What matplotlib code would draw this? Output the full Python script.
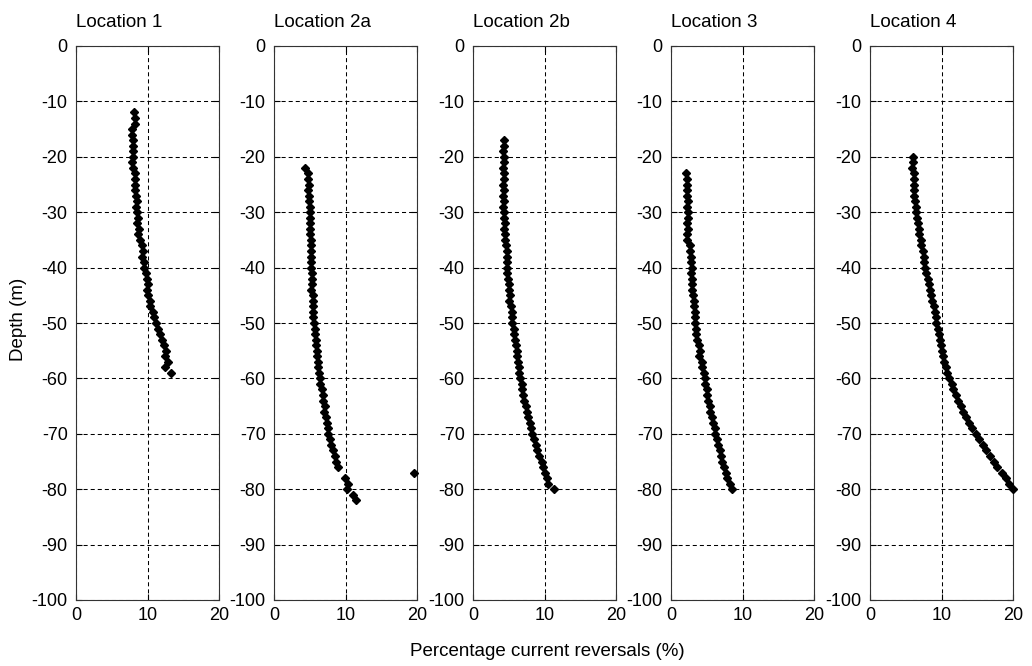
import numpy as np
import matplotlib
matplotlib.use('Agg')
import matplotlib.pyplot as plt

plt.rcParams['font.family'] = ['Liberation Sans', 'DejaVu Sans']
plt.rcParams['font.size'] = 13
plt.rcParams['axes.unicode_minus'] = False

# titles of the five panels
titles = ['Location 1', 'Location 2a', 'Location 2b', 'Location 3', 'Location 4']

# depth sampled every metre (m), from first to last reading
depth_1 = list(range(-12, -60, -1))
depth_2a = list(range(-22, -83, -1))
depth_2b = list(range(-17, -81, -1))
depth_3 = list(range(-23, -81, -1))
depth_4 = list(range(-20, -81, -1))

# percentage current reversals (%)
rev_1 = [8.1, 8.3, 8.2, 7.9, 7.8, 8.0, 8.0, 8.0, 8.0, 7.9,
         8.0, 8.2, 8.2, 8.3, 8.2, 8.4, 8.5, 8.4, 8.6, 8.7,
         8.6, 8.8, 8.7, 8.9, 9.3, 9.4, 9.2, 9.5, 9.5, 9.8,
         9.9, 10.0, 9.9, 10.1, 10.4, 10.3, 10.7, 10.9, 11.2, 11.4,
         11.7, 12.0, 12.3, 12.6, 12.4, 12.9, 12.5, 13.3]
rev_2a = [4.4, 4.8, 4.7, 4.9, 4.8, 4.9, 4.9, 5.0, 5.0, 5.0,
          5.1, 5.0, 5.1, 5.2, 5.2, 5.2, 5.2, 5.2, 5.2, 5.3,
          5.3, 5.3, 5.2, 5.4, 5.4, 5.5, 5.4, 5.5, 5.6, 5.7,
          5.8, 5.9, 5.9, 6.0, 6.0, 6.1, 6.2, 6.3, 6.4, 6.4,
          6.7, 6.8, 6.9, 7.1, 7.0, 7.3, 7.4, 7.6, 7.6, 7.9,
          8.0, 8.3, 8.6, 8.7, 9.0, 19.6, 9.9, 10.3, 10.2, 11.0,
          11.4]
rev_2b = [4.3, 4.3, 4.2, 4.3, 4.3, 4.2, 4.3, 4.3, 4.2, 4.3,
          4.2, 4.3, 4.2, 4.3, 4.4, 4.5, 4.4, 4.5, 4.5, 4.6,
          4.7, 4.7, 4.8, 4.8, 4.8, 4.9, 5.0, 5.1, 5.2, 5.1,
          5.3, 5.4, 5.4, 5.5, 5.7, 5.8, 5.9, 6.0, 6.1, 6.2,
          6.3, 6.4, 6.4, 6.6, 6.8, 6.9, 7.0, 7.2, 7.4, 7.5,
          7.7, 8.0, 8.1, 8.3, 8.5, 8.8, 9.0, 9.2, 9.7, 9.8,
          10.1, 10.4, 10.5, 11.3]
rev_3 = [2.1, 2.3, 2.2, 2.3, 2.3, 2.4, 2.3, 2.4, 2.4, 2.3,
         2.4, 2.3, 2.3, 2.7, 2.7, 2.8, 2.8, 2.9, 2.8, 2.9,
         3.0, 3.0, 3.1, 3.2, 3.2, 3.3, 3.3, 3.4, 3.5, 3.5,
         3.6, 3.9, 4.1, 3.9, 4.3, 4.4, 4.6, 4.7, 4.8, 5.0,
         5.1, 5.2, 5.4, 5.5, 5.7, 5.9, 6.1, 6.2, 6.4, 6.6,
         6.8, 7.0, 7.2, 7.4, 7.7, 7.8, 8.2, 8.6]
rev_4 = [6.0, 6.0, 5.9, 6.1, 6.1, 6.2, 6.2, 6.1, 6.3, 6.4,
         6.5, 6.6, 6.7, 6.8, 6.9, 7.1, 7.2, 7.4, 7.5, 7.6,
         7.7, 7.9, 8.1, 8.3, 8.4, 8.6, 8.7, 8.9, 9.1, 9.2,
         9.3, 9.5, 9.6, 9.8, 9.9, 10.1, 10.2, 10.4, 10.6, 10.8,
         11.1, 11.4, 11.6, 12.0, 12.3, 12.7, 13.0, 13.4, 13.8, 14.3,
         14.8, 15.3, 15.8, 16.2, 16.8, 17.4, 17.8, 18.5, 19.0, 19.4,
         20.0]

depths = [depth_1, depth_2a, depth_2b, depth_3, depth_4]
revs = [rev_1, rev_2a, rev_2b, rev_3, rev_4]

fig = plt.figure(figsize=(10.32, 6.66), dpi=100)

lefts = [76, 274, 473, 671, 870]
for i in range(5):
    ax = fig.add_axes([lefts[i] / 1032, 66 / 666, 143 / 1032, 554 / 666])
    ax.plot(revs[i], depths[i], linestyle='none', marker='D', markersize=3.6,
            color='black', clip_on=False, zorder=3)
    ax.set_xlim(0, 20)
    ax.set_ylim(-100, 0)
    ax.set_xticks([0, 10, 20])
    ax.set_yticks(np.arange(-100, 1, 10))
    ax.grid(True, linestyle=(0, (3.9, 2.9)), color='black', linewidth=0.75)
    ax.tick_params(direction='in', length=4, width=0.8, labelsize=13,
                   top=True, right=True)
    ax.tick_params(axis='y', pad=6)
    ax.tick_params(axis='x', pad=5)
    for s in ax.spines.values():
        s.set_color('#333333')
    ax.set_title(titles[i], loc='left', fontsize=13.5, pad=14)

fig.text(0.018, 0.52, 'Depth (m)', rotation=90, ha='center', va='center', fontsize=13.5)
fig.text(0.5305, 0.0225, 'Percentage current reversals (%)', ha='center', va='center',
         fontsize=13.5)

fig.savefig('out.png', dpi=100, facecolor='white')
